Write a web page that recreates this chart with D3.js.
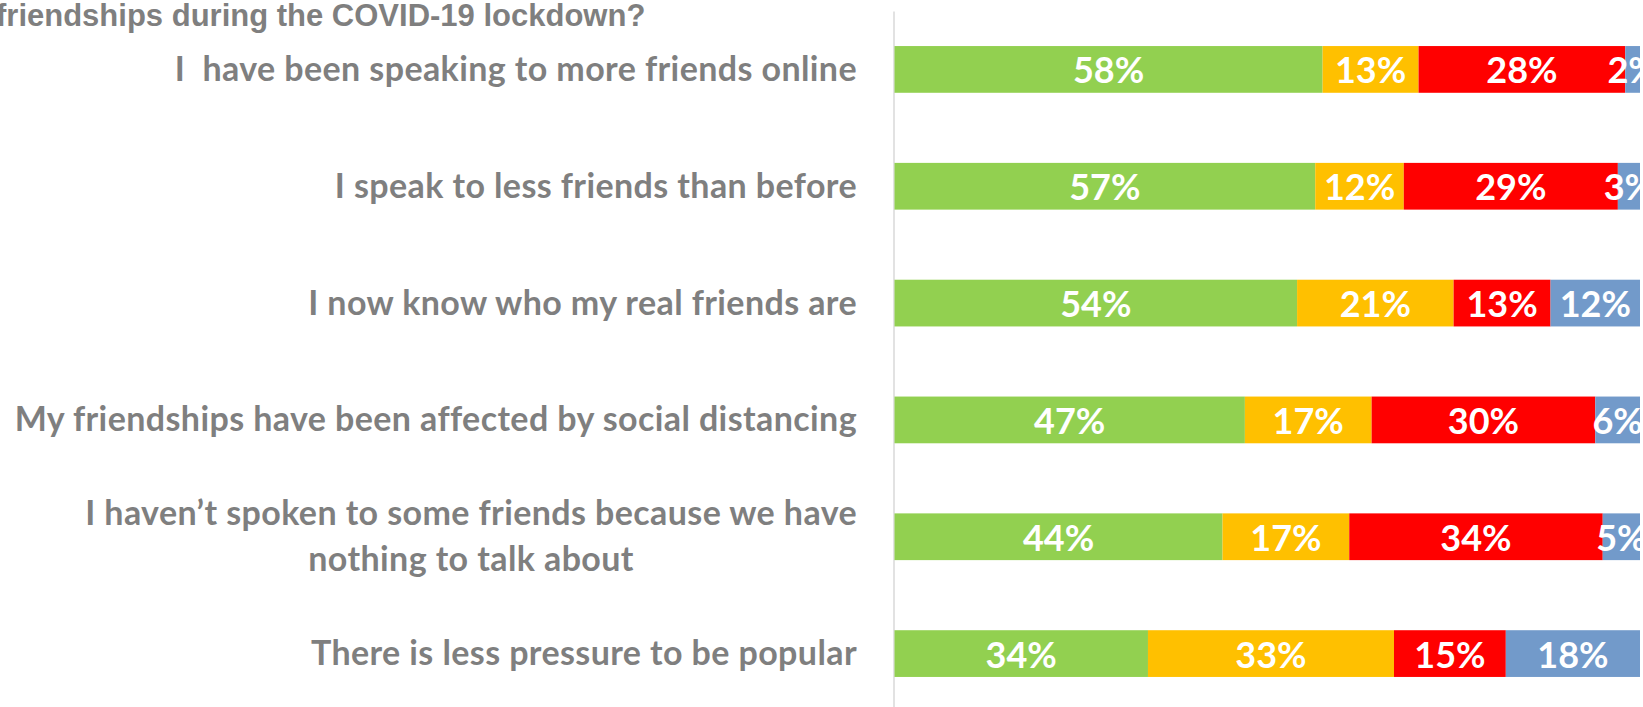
<!DOCTYPE html>
<html>
<head>
<meta charset="utf-8">
<script src="https://cdn.jsdelivr.net/npm/d3@7"></script>
<style>
  html, body { margin: 0; padding: 0; background: #fff; overflow: hidden; }
  svg { display: block; }
</style>
</head>
<body>
<script>
// Statements shown on the vertical axis, top to bottom
const categories = [
  "I  have been speaking to more friends online",
  "I speak to less friends than before",
  "I now know who my real friends are",
  "My friendships have been affected by social distancing",
  "I haven\u2019t spoken to some friends because we have\nnothing to talk about",
  "There is less pressure to be popular"
];

// Share of responses (%) for each of the four answer groups
const response1 = [58, 57, 54, 47, 44, 34];
const response2 = [13, 12, 21, 17, 17, 33];
const response3 = [28, 29, 13, 30, 34, 15];
const response4 = [2, 3, 12, 6, 5, 18];

const seriesKeys = ["response1", "response2", "response3", "response4"];
const seriesColors = ["#92d050", "#ffc000", "#ff0000", "#729aca"];

const titleText = "friendships during the COVID-19 lockdown?";

const W = 1643, H = 707;
const rows = categories.map((c, i) => ({
  category: c,
  response1: response1[i],
  response2: response2[i],
  response3: response3[i],
  response4: response4[i]
}));

const svg = d3.select("body").append("svg")
  .attr("width", W).attr("height", H);

// 100% stacked layout
const stacked = d3.stack().keys(seriesKeys).offset(d3.stackOffsetExpand)(rows);

const x = d3.scaleLinear().domain([0, 1]).range([894.5, 1640]);
const y = d3.scaleBand().domain(categories).range([11, 712])
  .paddingInner(0.6).paddingOuter(0.3);
const color = d3.scaleOrdinal().domain(seriesKeys).range(seriesColors);

// Title (partly outside the left edge)
svg.append("text")
  .attr("x", -4).attr("y", 26)
  .attr("font-family", "'Liberation Sans', Arial, sans-serif")
  .attr("font-weight", "bold")
  .attr("font-size", 31)
  .attr("fill", "#7f7f7f")
  .text(titleText);

// Category axis line
const axis = d3.axisLeft(y).tickSize(0).tickSizeOuter(0).tickFormat("");
const gAxis = svg.append("g").attr("transform", "translate(893.5,0)").call(axis);
gAxis.select(".domain").attr("stroke", "#d9d9d9").attr("stroke-width", 1.5);

// Segments
const layer = svg.append("g").selectAll("g")
  .data(stacked).join("g")
  .attr("fill", d => color(d.key));

layer.selectAll("rect")
  .data(d => d)
  .join("rect")
  .attr("x", d => x(d[0]))
  .attr("width", d => x(d[1]) - x(d[0]))
  .attr("y", d => y(d.data.category))
  .attr("height", y.bandwidth());

// Value labels
const labelSize = 36;
const labels = svg.append("g")
  .attr("font-family", "Lato, 'Open Sans', sans-serif")
  .attr("font-weight", "bold")
  .attr("font-size", labelSize)
  .attr("fill", "#fff")
  .attr("text-anchor", "middle");

stacked.forEach(s => {
  labels.selectAll(null)
    .data(s)
    .join("text")
    .attr("x", d => (x(d[0]) + x(d[1])) / 2)
    .attr("y", d => y(d.data.category) + y.bandwidth() / 2 + 14)
    .text(d => d.data[s.key] + "%");
});

// Category labels: block right-aligned to the axis, lines centred within the block
const catSize = 34;
const lineH = 46;
const labelRight = 857;
const catG = svg.append("g")
  .attr("font-family", "Lato, 'Open Sans', sans-serif")
  .attr("font-weight", "bold")
  .attr("font-size", catSize)
  .attr("letter-spacing", 0.4)
  .attr("fill", "#7f7f7f");

categories.forEach(c => {
  const lines = c.split("\n");
  const cy = y(c) + y.bandwidth() / 2;
  const t = catG.append("text").attr("text-anchor", "middle");
  const spans = lines.map((ln, i) => t.append("tspan")
    .attr("y", cy + (i - (lines.length - 1) / 2) * lineH + catSize * 0.34)
    .text(ln.replace(/  /g, " \u00a0")));   // keep double spaces visible
  const maxW = d3.max(spans, s => s.node().getComputedTextLength());
  spans.forEach(s => s.attr("x", labelRight - maxW / 2));
});
</script>
</body>
</html>
